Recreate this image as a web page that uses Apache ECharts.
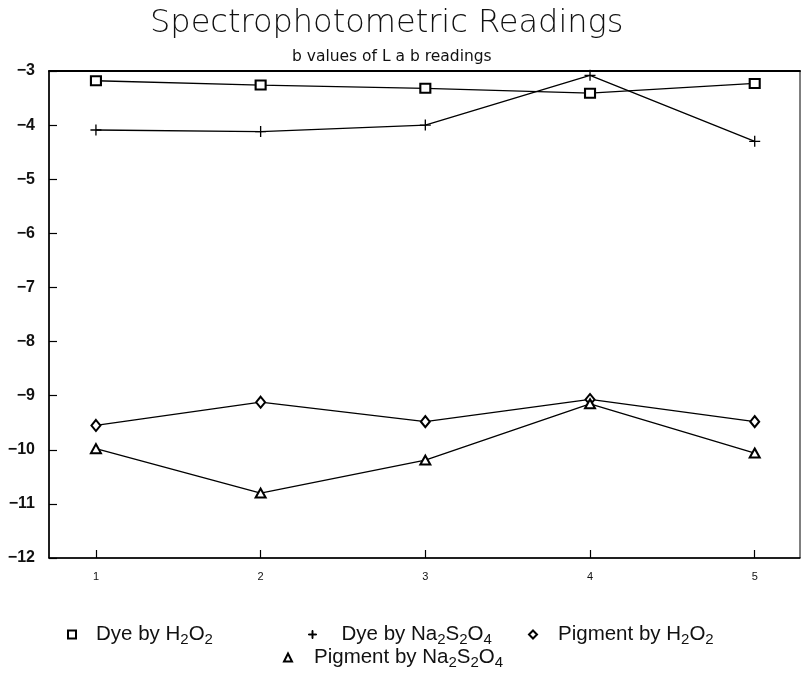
<!DOCTYPE html>
<html>
<head>
<meta charset="utf-8">
<script src="https://cdn.jsdelivr.net/npm/echarts@6/dist/echarts.min.js"></script>
<style>
  html, body { margin: 0; padding: 0; background: #fff; }
  #chart { width: 802px; height: 678px; }
</style>
</head>
<body>
<div id="chart"></div>
<script>
// Sample positions along the horizontal axis
const samples = [1, 2, 3, 4, 5];

// b values (L a b colour space) for each treatment
const dyeH2O2 = [-3.18, -3.26, -3.32, -3.41, -3.23];
const dyeNa2S2O4 = [-4.09, -4.12, -4.00, -3.08, -4.30];
const pigmentH2O2 = [-9.55, -9.12, -9.48, -9.07, -9.48];
const pigmentNa2S2O4 = [-9.98, -10.80, -10.19, -9.15, -10.06];

const yTicks = [-12, -11, -10, -9, -8, -7, -6, -5, -4, -3];

const plusPath = 'path://M4.4,0H5.6V4.4H10V5.6H5.6V10H4.4V5.6H0V4.4H4.4Z';

function pairs(vals) {
  return samples.map((x, i) => [x, vals[i]]);
}

const chart = echarts.init(document.getElementById('chart'), null, { renderer: 'canvas' });

const legendFont = 'Liberation Sans Narrow, Liberation Sans, Arial, sans-serif';
const legendRich = {
  s: { fontSize: 15, padding: [10, 0, 0, 0], fontFamily: legendFont, color: '#111' },
  t: { fontSize: 20.5, fontFamily: legendFont, color: '#111' }
};

function legendAt(name, icon, left, top, gap, size) {
  return {
    data: [{ name: name, icon: icon }],
    left: left,
    top: top,
    itemWidth: size,
    itemHeight: size,
    selectedMode: false,
    itemStyle: { color: '#000', borderColor: '#000', borderWidth: 1 },
    formatter: function (n) {
      const parts = n.split(/(\d)/).filter(Boolean);
      let out = '{g|}';
      parts.forEach(p => { out += /\d/.test(p) ? '{s|' + p + '}' : '{t|' + p + '}'; });
      return out;
    },
    textStyle: {
      rich: Object.assign({ g: { width: gap } }, legendRich)
    }
  };
}

const lineStyle = { color: '#000', width: 1.3 };

const option = {
  backgroundColor: '#fff',
  animation: false,
  title: [
    {
      text: 'Spectrophotometric Readings',
      left: 145,
      top: 3,
      textStyle: { fontFamily: 'DejaVu Sans ExtraLight, DejaVu Sans, sans-serif', fontWeight: 200, fontSize: 32, color: '#111' }
    },
    {
      text: 'b values of L a b readings',
      left: 287,
      top: 44,
      textStyle: { fontFamily: 'DejaVu Sans, sans-serif', fontWeight: 'normal', fontSize: 15.5, color: '#111' }
    }
  ],
  legend: [
    legendAt('Dye by H2O2', 'emptyRect', 62, 619, 15, 8),
    legendAt('Dye by Na2S2O4', plusPath, 303, 619, 20, 8),
    legendAt('Pigment by H2O2', 'emptyDiamond', 523, 619, 16, 8),
    legendAt('Pigment by Na2S2O4', 'emptyTriangle', 278, 642, 17, 8)
  ],
  grid: { left: 49, right: 2, top: 71, bottom: 120, show: true, borderColor: '#000', borderWidth: 1 },
  xAxis: [
    {
      type: 'value',
      min: 0.715,
      max: 5.275,
      axisLine: { show: true, onZero: false, lineStyle: { color: '#000', width: 1.5 } },
      axisTick: { show: true, inside: true, length: 8, customValues: samples, lineStyle: { color: '#000', width: 1.2 } },
      axisLabel: { customValues: samples, margin: 13, fontSize: 11, fontFamily: 'Liberation Sans, Arial, sans-serif', color: '#111' },
      splitLine: { show: false }
    },
    {
      type: 'value',
      position: 'top',
      min: 0.715,
      max: 5.275,
      axisLine: { show: true, lineStyle: { color: '#000', width: 2 } },
      axisTick: { show: false },
      axisLabel: { show: false },
      splitLine: { show: false }
    }
  ],
  yAxis: {
    type: 'value',
    min: -12,
    max: -3,
    interval: 1,
    axisLine: { show: true, onZero: false, lineStyle: { color: '#000', width: 1.5 } },
    axisTick: { show: true, inside: true, length: 8, lineStyle: { color: '#000', width: 1.2 } },
    axisLabel: {
      margin: 14,
      fontSize: 16,
      fontWeight: 'bold',
      fontFamily: 'Liberation Sans, Arial, sans-serif',
      color: '#111',
      formatter: v => (yTicks.indexOf(v) >= 0 ? '\u2212' + Math.abs(v) : '')
    },
    splitLine: { show: false }
  },
  series: [
    {
      name: 'Dye by H2O2', type: 'line', data: pairs(dyeH2O2),
      symbol: 'emptyRect', symbolSize: [10, 9],
      lineStyle: lineStyle, itemStyle: { color: '#000', borderColor: '#000', borderWidth: 1.3 }
    },
    {
      name: 'Dye by Na2S2O4', type: 'line', data: pairs(dyeNa2S2O4),
      symbol: plusPath, symbolSize: 11,
      lineStyle: lineStyle, itemStyle: { color: '#000', borderColor: '#000', borderWidth: 0 }
    },
    {
      name: 'Pigment by H2O2', type: 'line', data: pairs(pigmentH2O2),
      symbol: 'emptyDiamond', symbolSize: [9, 11],
      lineStyle: lineStyle, itemStyle: { color: '#000', borderColor: '#000', borderWidth: 1.3 }
    },
    {
      name: 'Pigment by Na2S2O4', type: 'line', data: pairs(pigmentNa2S2O4),
      symbol: 'emptyTriangle', symbolSize: [10, 9],
      lineStyle: lineStyle, itemStyle: { color: '#000', borderColor: '#000', borderWidth: 1.3 }
    }
  ]
};

chart.setOption(option);
</script>
</body>
</html>
